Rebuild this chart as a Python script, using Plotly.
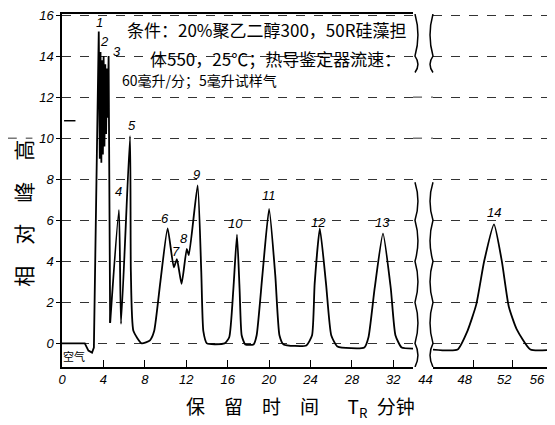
import plotly.graph_objects as go

# ---- data ----
time_a = [0.0, 2.2, 2.55, 2.9, 3.08, 3.55, 3.65, 3.72, 3.8, 3.88, 3.95, 4.02, 4.1, 4.18,
          4.26, 4.34, 4.42, 4.5, 4.65,
          5.5, 5.7, 6.57, 6.65, 6.9, 7.7, 8.5, 8.9, 9.5, 10.2, 10.8, 11.1, 11.55, 12.05, 12.25,
          13.1, 13.45, 13.65, 14.0, 15.7, 16.15, 16.55, 16.9, 17.15, 17.35, 17.7, 18.5,
          18.8, 19.35, 20.0, 20.6, 21.0, 21.4, 23.6, 24.15, 24.4, 24.9, 25.5, 26.0, 26.6,
          29.2, 29.6, 30.2, 31.0, 31.75, 32.2, 32.8, 33.9]
signal_a = [0.0, 0.0, -0.35, -0.45, -0.2, 15.2, 9.0, 14.2, 8.8, 13.8, 9.2, 14.0, 9.6, 13.6,
            10.2, 13.4, 11.0, 14.0, 1.0,
            6.5, 0.95, 10.1, 3.5, 0.6, 0.0, 0.15, 0.6, 3.0, 5.6, 3.7, 4.1, 2.9, 4.6, 4.3,
            7.7, 3.5, 0.6, 0.0, 0.0, 0.3, 2.65, 5.3, 2.65, 0.4, -0.05, -0.05,
            0.4, 3.3, 6.55, 3.3, 0.4, -0.05, -0.1, 0.4, 2.9, 5.6, 2.9, 0.4, -0.15,
            -0.2, 0.3, 2.7, 5.35, 2.7, 0.4, -0.2, -0.25]
cluster_end = 4.65   # end of the unresolved peaks 1-3 (drawn with straight strokes)

time_b = [43.9, 46.4, 47.4, 48.3, 49.1, 50.1, 50.9, 51.6, 52.4, 53.8, 56.3]
signal_b = [-0.3, -0.3, 0.6, 1.9, 4.0, 5.8, 4.0, 1.8, 0.7, -0.3, -0.3]

peak_ids = ["1", "2", "3", "4", "5", "6", "7", "8", "9", "10", "11", "12", "13", "14"]
peak_lx = [3.6, 4.15, 5.3, 5.5, 6.75, 9.9, 11.05, 11.8, 13.0, 16.8, 20.0, 24.8, 31.0, 50.1]
peak_ly = [15.65, 14.7, 14.2, 7.4, 10.6, 6.1, 4.5, 5.1, 8.25, 5.85, 7.2, 5.9, 5.9, 6.4]
peak_axis = ["x"] * 13 + ["x2"]

left_ticks = [0, 4, 8, 12, 16, 20, 24, 28, 32]
right_ticks = [44, 48, 52, 56]
right_ticktext = ["44", "48", "52", "56\u2002"]
y_ticks = [0, 2, 4, 6, 8, 10, 12, 14, 16]

cond_lines = ["条件：20%聚乙二醇300，50R硅藻担",
              "体550，25℃；热导鉴定器流速：",
              "60毫升/分；5毫升试样气"]

CJK = "Noto Sans CJK SC"
TF = dict(family="Liberation Sans", size=13, color="black", style="italic")

k = time_a.index(cluster_end)
fig = go.Figure()
fig.add_trace(go.Scatter(x=time_a[:k + 1], y=signal_a[:k + 1], mode="lines", xaxis="x", yaxis="y",
                         line=dict(color="black", width=1.8),
                         showlegend=False, hoverinfo="skip"))
fig.add_trace(go.Scatter(x=time_a[k:], y=signal_a[k:], mode="lines", xaxis="x", yaxis="y",
                         line=dict(color="black", width=1.8, shape="spline", smoothing=0.5),
                         showlegend=False, hoverinfo="skip"))
fig.add_trace(go.Scatter(x=time_b, y=signal_b, mode="lines", xaxis="x2", yaxis="y2",
                         line=dict(color="black", width=1.8, shape="spline", smoothing=0.5),
                         showlegend=False, hoverinfo="skip"))

annotations = []
for pid, px, py, ax in zip(peak_ids, peak_lx, peak_ly, peak_axis):
    annotations.append(dict(x=px, y=py, xref=ax, yref="y" if ax == "x" else "y2",
                            text=pid, showarrow=False, font=dict(TF, size=13),
                            xanchor="center", yanchor="middle"))
annotations.append(dict(x=1.2, y=-0.62, xref="x", yref="y", text="空气", showarrow=False,
                        xanchor="center", yanchor="middle",
                        font=dict(family=CJK, size=11, color="black")))
cond_pos = [(0.128, 0.955, 17), (0.174, 0.873, 17), (0.118, 0.814, 14)]
for txt, (cx, cy, fs) in zip(cond_lines, cond_pos):
    annotations.append(dict(x=cx, y=cy, xref="paper", yref="paper", text=txt,
                            xanchor="left", yanchor="middle", showarrow=False,
                            font=dict(family=CJK, size=fs, color="black")))
annotations.append(dict(x=-0.079, y=0.434, xref="paper", yref="paper",
                        text="相\u2003对\u2003峰\u2003高", textangle=-90, showarrow=False,
                        xanchor="center", yanchor="middle",
                        font=dict(family=CJK, size=21, color="black")))
annotations.append(dict(x=0.483, y=-0.113, xref="paper", yref="paper",
                        text="保\u2003留\u2003时\u2003间\u2003\u2002T<sub>R</sub>\u2002分钟",
                        xanchor="center", yanchor="middle",
                        showarrow=False, font=dict(family=CJK, size=19, color="black")))


def wavy(x0, ys, amp):
    d = "M %.4f %.3f" % (x0, ys[0])
    for a, b in zip(ys[:-1], ys[1:]):
        d += " Q %.4f %.3f %.4f %.3f" % (x0 + amp, (a + b) / 2, x0, b)
    return d


XL, XR = 0.712, 0.7525
shapes = []
for xp, amp in ((XL + 0.004, 0.012), (XR, -0.012)):
    for ys in ([16.05, 14.0, 13.2], [7.85, 6, 4, 2, 0, -1.15]):
        shapes.append(dict(type="path", xref="paper", yref="y", path=wavy(xp, ys, amp),
                           line=dict(color="black", width=1.5)))
for gy in (10, 12):
    shapes.append(dict(type="line", xref="paper", yref="y", x0=XL, x1=XR, y0=gy, y1=gy,
                       line=dict(color="#333", width=1, dash="dash")))
shapes.append(dict(type="line", xref="paper", yref="y", x0=-0.11, x1=-0.06, y0=10, y1=10,
                   line=dict(color="#333", width=1, dash="dash")))
shapes.append(dict(type="line", xref="x", yref="y", x0=0.2, x1=1.3, y0=10.85, y1=10.85,
                   line=dict(color="black", width=1.5)))

grid = dict(showgrid=True, gridcolor="#333", gridwidth=1, griddash="dash", zeroline=False)

# page body has an 8px margin: figure is 547x417 so it ends at the window edge
fig.update_layout(
    width=547, height=417,
    margin=dict(l=54, r=0, t=4, b=58),
    paper_bgcolor="white", plot_bgcolor="white",
    xaxis=dict(domain=[0, XL], range=[0, 33.9], tickvals=left_ticks, ticks="inside",
               ticklen=7, tickcolor="black", showline=True, linecolor="black", linewidth=1.5,
               mirror=True, showgrid=False, zeroline=False, tickfont=TF, anchor="y"),
    yaxis=dict(range=[-1.15, 16.05], tickvals=y_ticks, ticks="outside", ticklen=4,
               tickcolor="black", showline=True, linecolor="black", linewidth=1.5,
               tickfont=TF, anchor="x", ticklabeloverflow="allow", **grid),
    xaxis2=dict(domain=[XR, 1], range=[43.9, 56.3], tickvals=right_ticks,
                ticktext=right_ticktext,
                ticks="inside", ticklen=7, tickcolor="black", ticklabelposition="outside left",
                showline=True, linecolor="black", linewidth=1.5, showgrid=False,
                zeroline=False, tickfont=TF, anchor="y2"),
    yaxis2=dict(range=[-1.15, 16.05], tickvals=y_ticks, showticklabels=False,
                showline=False, anchor="x2", **grid),
    annotations=annotations,
    shapes=shapes,
)

fig.write_html("out.html")
